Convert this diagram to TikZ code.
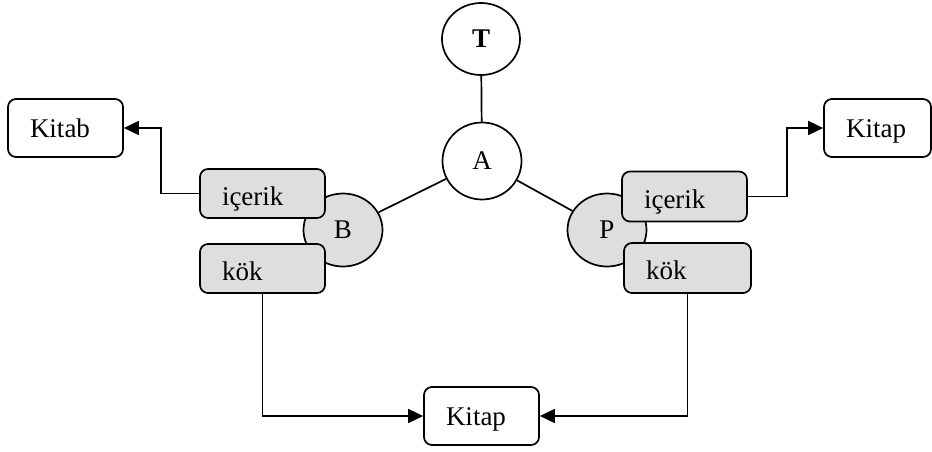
\documentclass[tikz,border=0pt]{standalone}
\usepackage{fontspec}
\setmainfont{Liberation Serif}
\usetikzlibrary{shapes.geometric,arrows.meta}
\definecolor{slotgray}{HTML}{DEDEDE}
\tikzset{
  lbl/.style={font=\fontsize{27}{32}\selectfont},
  circ/.style={ellipse, draw, line width=1.7pt, inner sep=0pt, lbl},
  slot/.style={draw, line width=1.7pt, rounded corners=8pt, inner xsep=22pt,
               inner ysep=0pt, align=left, lbl, text depth=0pt},
  grayslot/.style={slot, fill=slotgray, text height=23pt},
  valbox/.style={slot, fill=white, text height=18pt},
  link/.style={line width=1.7pt},
  arr/.style={line width=1.7pt, -{Triangle[length=15pt,width=14pt]}}
}
\begin{document}
\begin{tikzpicture}[x=1pt,y=-1pt]
\useasboundingbox (0,0) rectangle (932,451);

% frame circles (drawn first so the slots overlap them)
\node[circ, minimum width=78pt, minimum height=72pt] (T) at (481,39) {\textbf{T}};
\node[circ, minimum width=79pt, minimum height=77pt] (A) at (482,161) {A};
\node[circ, fill=slotgray, minimum width=79pt, minimum height=73pt] (B) at (343,230) {B};
\node[circ, fill=slotgray, minimum width=79pt, minimum height=73pt] (P) at (607,230) {P};

\draw[link] (T) -- (A);
\draw[link] (A) -- (B);
\draw[link] (A) -- (P);

% slots of B and P
\node[grayslot, text width=81pt, minimum height=49pt] (icerikL) at (262.5,193.5) {içerik};
\node[grayslot, text width=81pt, minimum height=49pt] (kokL) at (262.5,268.5) {kök};
\node[grayslot, text width=81pt, minimum height=50pt] (icerikR) at (684.5,196.5) {içerik};
\node[grayslot, text width=83pt, minimum height=50pt] (kokR) at (687.5,268) {kök};

% value boxes
\node[valbox, text width=71pt, minimum height=58pt] (kitabL) at (65.5,128) {Kitab};
\node[valbox, text width=63pt, minimum height=58pt] (kitapR) at (877.5,128) {Kitap};
\node[valbox, text width=71pt, minimum height=58pt] (kitapB) at (481.5,416) {Kitap};

% slot-to-value connectors
\draw[arr] (icerikL.west) -- ++(-38,0) |- (kitabL.east);
\draw[arr] (icerikR.east) -- ++(39,0) |- (kitapR.west);
\draw[arr] (kokL.south) |- (kitapB.west);
\draw[arr] (kokR.south) |- (kitapB.east);
\end{tikzpicture}
\end{document}
